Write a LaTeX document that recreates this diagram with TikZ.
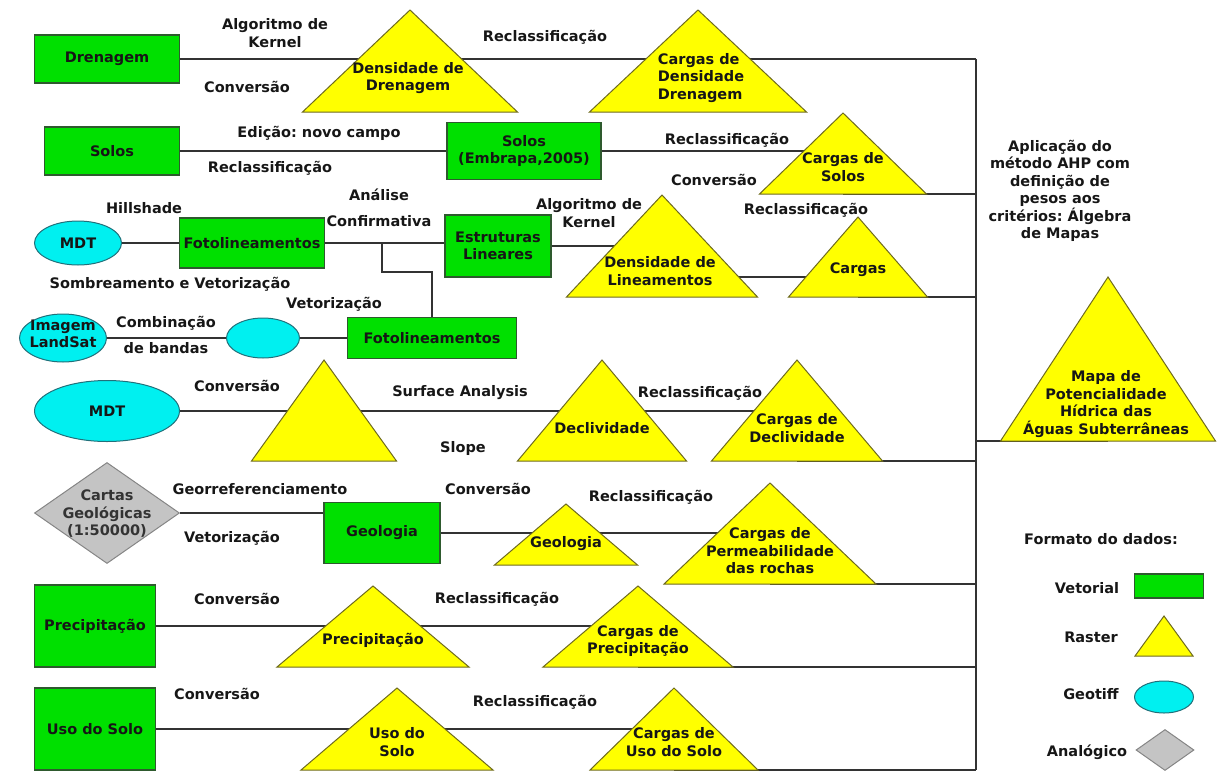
\documentclass[tikz,border=0pt]{standalone}
\usepackage{fontspec}
\setmainfont{DejaVu Sans}
\usepackage{tikz}
\usetikzlibrary{shapes.geometric,backgrounds}
\definecolor{vetgreen}{HTML}{00E000}
\definecolor{vetline}{HTML}{2E5A2E}
\definecolor{rasyellow}{HTML}{FFFF00}
\definecolor{rasline}{HTML}{6E6A1E}
\definecolor{geocyan}{HTML}{00F0F0}
\definecolor{geoline}{HTML}{21707A}
\definecolor{anagray}{HTML}{C4C4C4}
\definecolor{analine}{HTML}{858585}
\definecolor{inkgray}{HTML}{161616}
\definecolor{wiregray}{HTML}{333333}
\frenchspacing

\begin{document}
\begin{tikzpicture}[x=1pt,y=-1pt,
  every node/.style={font=\bfseries\fontsize{14.5}{17.5}\selectfont,text=inkgray},
  vetor/.style={draw=vetline,fill=vetgreen,line width=1.2pt,inner sep=0pt,align=center},
  raster/.style={isosceles triangle,isosceles triangle stretches,shape border rotate=90,anchor=apex,draw=rasline,fill=rasyellow,line width=1pt,inner sep=0pt,outer sep=0pt},
  geotiff/.style={ellipse,draw=geoline,fill=geocyan,line width=1pt,inner sep=0pt,align=center},
  analog/.style={diamond,draw=analine,fill=anagray,line width=1pt,inner sep=0pt},
  txt/.style={align=center,inner sep=0pt},
  op/.style={align=center,inner sep=1pt},
  wire/.style={draw=wiregray,line width=1.2pt}
]
\useasboundingbox (0,0) rectangle (1232,782);

% drenagem
\node[vetor,minimum width=145pt,minimum height=48pt] (drenagem) at (107,59) {Drenagem};
\node[raster,minimum width=215pt,minimum height=102pt] (densdren) at (410,10) {};
\node[txt] (densdren-t) at (408,78) {Densidade de\\Drenagem};
\node[raster,minimum width=217pt,minimum height=102pt] (cargasdd) at (698,10) {};
\node[txt,align=left] (cargasdd-t) at (701,78) {Cargas de\\Densidade\\Drenagem};
\node[op] (kernel1) at (275,33) {Algoritmo de\\Kernel};
\node[op] (conv1) at (247,87) {Conversão};
\node[op] (recl1) at (545,37) {Reclassificação};

% solos
\node[vetor,minimum width=135pt,minimum height=48pt] (solos) at (112,151) {Solos};
\node[vetor,minimum width=154pt,minimum height=57pt] (embrapa) at (524,151) {Solos\\(Embrapa,2005)};
\node[raster,minimum width=167pt,minimum height=81pt] (cargassolos) at (843,113) {};
\node[txt] (cargassolos-t) at (843,167) {Cargas de\\Solos};
\node[op] (edicao) at (319,133) {Edição: novo campo};
\node[op] (recl2) at (270,168) {Reclassificação};
\node[op] (recl3) at (727,140) {Reclassificação};
\node[op] (conv2) at (714,180) {Conversão};

% lineamentos
\node[geotiff,minimum width=87pt,minimum height=44pt] (mdt) at (78,243) {MDT};
\node[vetor,minimum width=145pt,minimum height=50pt] (foto) at (252,243) {Fotolineamentos};
\node[vetor,minimum width=106pt,minimum height=62pt] (estrut) at (498,246) {Estruturas\\Lineares};
\node[raster,minimum width=191pt,minimum height=102pt] (denslin) at (662,195) {};
\node[txt] (denslin-t) at (660,271) {Densidade de\\Lineamentos};
\node[raster,minimum width=139pt,minimum height=80pt] (cargaslin) at (858,217) {};
\node[txt] (cargaslin-t) at (858,270) {Cargas};
\node[op] (hill) at (144,208) {Hillshade};
\node[op] (analise) at (379,208) {Análise\\[9pt]Confirmativa};
\node[op] (kernel2) at (589,213) {Algoritmo de\\Kernel};
\node[op] (recl4) at (806,210) {Reclassificação};
\coordinate (jct) at (382,243);

% landsat
\node[geotiff,minimum width=87pt,minimum height=48pt] (landsat) at (63,338) {};
\node[txt] (landsat-t) at (63,334) {Imagem\\LandSat};
\node[geotiff,minimum width=73pt,minimum height=40pt] (ellvet) at (263,338) {};
\node[vetor,minimum width=169pt,minimum height=41pt] (foto2) at (432,338) {Fotolineamentos};
\node[op] (sombra) at (170,284) {Sombreamento e Vetorização};
\node[op] (combina) at (166,335) {Combinação\\[8pt]de bandas};
\node[op] (vetor1) at (334,304) {Vetorização};

% declividade
\node[geotiff,minimum width=145pt,minimum height=61pt] (mdt2) at (107,411) {MDT};
\node[raster,minimum width=145pt,minimum height=101pt] (tinslope) at (324,360) {};
\node[raster,minimum width=169pt,minimum height=101pt] (decliv) at (602,360) {};
\node[txt] (decliv-t) at (602,428) {Declividade};
\node[raster,minimum width=171pt,minimum height=101pt] (cargasdecl) at (797,360) {};
\node[txt] (cargasdecl-t) at (797,428) {Cargas de\\Declividade};
\node[op] (conv3) at (237,386) {Conversão};
\node[op] (surface) at (460,393) {Surface Analysis};
\node[op] (slope) at (463,448) {Slope};
\node[op] (recl5) at (700,393) {Reclassificação};

% geologia
\node[analog,minimum width=145pt,minimum height=101pt] (cartas) at (107,513) {};
\node[txt,text=black!80] (cartas-t) at (107,514) {Cartas\\Geológicas\\(1:50000)};
\node[vetor,minimum width=116pt,minimum height=61pt] (geologia) at (382,533) {Geologia};
\node[raster,minimum width=143pt,minimum height=61pt] (geoltri) at (566,504) {};
\node[txt] (geoltri-t) at (566,544) {Geologia};
\node[raster,minimum width=212pt,minimum height=101pt] (cargasperm) at (770,483) {};
\node[txt] (cargasperm-t) at (770,551) {Cargas de\\Permeabilidade\\das rochas};
\node[op] (georref) at (260,489) {Georreferenciamento};
\node[op] (vetor2) at (232,538) {Vetorização};
\node[op] (conv4) at (488,489) {Conversão};
\node[op] (recl6) at (651,497) {Reclassificação};

% precipitacao
\node[vetor,minimum width=121pt,minimum height=82pt] (precip) at (95,626) {Precipitação};
\node[raster,minimum width=192pt,minimum height=81pt] (preciptri) at (373,586) {};
\node[txt] (preciptri-t) at (373,640) {Precipitação};
\node[raster,minimum width=190pt,minimum height=81pt] (cargasprec) at (638,586) {};
\node[txt] (cargasprec-t) at (638,641) {Cargas de\\Precipitação};
\node[op] (conv5) at (237,599) {Conversão};
\node[op] (recl7) at (497,599) {Reclassificação};

% uso do solo
\node[vetor,minimum width=121pt,minimum height=82pt] (uso) at (95,729) {Uso do Solo};
\node[raster,minimum width=192pt,minimum height=82pt] (usotri) at (397,688) {};
\node[txt] (usotri-t) at (397,742) {Uso do\\Solo};
\node[raster,minimum width=168pt,minimum height=82pt] (cargasuso) at (674,688) {};
\node[txt] (cargasuso-t) at (674,742) {Cargas de\\Uso do Solo};
\node[op] (conv6) at (217,694) {Conversão};
\node[op] (recl8) at (535,702) {Reclassificação};

% AHP
\coordinate (busN) at (976,59);
\node[op] (ahp) at (1060,191) {Aplicação do\\método AHP com\\definição de\\pesos aos\\critérios: Álgebra\\de Mapas};
\node[raster,minimum width=215pt,minimum height=164pt] (mapa) at (1108,277) {};
\node[txt] (mapa-t) at (1106,404) {Mapa de\\Potencialidade\\Hídrica das\\Águas Subterrâneas};

% legenda
\node[op] (formato) at (1101,539) {Formato do dados:};
\node[op] (leg-vet) at (1087,588) {Vetorial};
\node[vetor,minimum width=69pt,minimum height=24pt] (leg-box) at (1169,586) {};
\node[op] (leg-ras) at (1091,637) {Raster};
\node[raster,minimum width=58pt,minimum height=40pt] (leg-tri) at (1164,616) {};
\node[op] (leg-geo) at (1091,694) {Geotiff};
\node[geotiff,minimum width=59pt,minimum height=32pt] (leg-ell) at (1164,697) {};
\node[op] (leg-ana) at (1087,752) {Analógico};
\node[analog,minimum width=58pt,minimum height=41pt] (leg-dia) at (1165,750) {};

\begin{scope}[on background layer]
\draw[wire] (drenagem.east) -- (drenagem.east -| busN);
\draw[wire] (busN) -- (busN |- cargasuso.south);
\draw[wire] (solos.east) -- (embrapa.west);
\draw[wire] (embrapa.east) -- (embrapa.east -| cargassolos.apex);
\draw[wire] (cargassolos.south) -- (cargassolos.south -| busN);
\draw[wire] (mdt.east) -- (foto.west);
\draw[wire] (foto.east) -- (foto.east -| estrut.west);
\draw[wire] (foto2.north) -- ++(0,-45) -| (jct);
\draw[wire] (estrut.east) -- (estrut.east -| denslin.apex);
\draw[wire] ([yshift=-6pt]denslin-t.east) -- ([yshift=-6pt]denslin-t.east -| cargaslin.apex);
\draw[wire] (cargaslin.south) -- (cargaslin.south -| busN);
\draw[wire] (landsat.east) -- (ellvet.west);
\draw[wire] (ellvet.east) -- (foto2.west);
\draw[wire] (mdt2.east) -- (mdt2.east -| cargasdecl.apex);
\draw[wire] (cargasdecl.south) -- (cargasdecl.south -| busN);
\draw[wire] (cartas.east) -- (cartas.east -| geologia.west);
\draw[wire] (geologia.east) -- (geologia.east -| cargasperm.apex);
\draw[wire] (cargasperm.south) -- (cargasperm.south -| busN);
\draw[wire] (precip.east) -- (precip.east -| cargasprec.apex);
\draw[wire] (cargasprec.south) -- (cargasprec.south -| busN);
\draw[wire] (uso.east) -- (uso.east -| cargasuso.apex);
\draw[wire] (cargasuso.south) -- (cargasuso.south -| busN);
\draw[wire] (mapa.south -| busN) -- (mapa.south);
\end{scope}
\end{tikzpicture}
\end{document}
